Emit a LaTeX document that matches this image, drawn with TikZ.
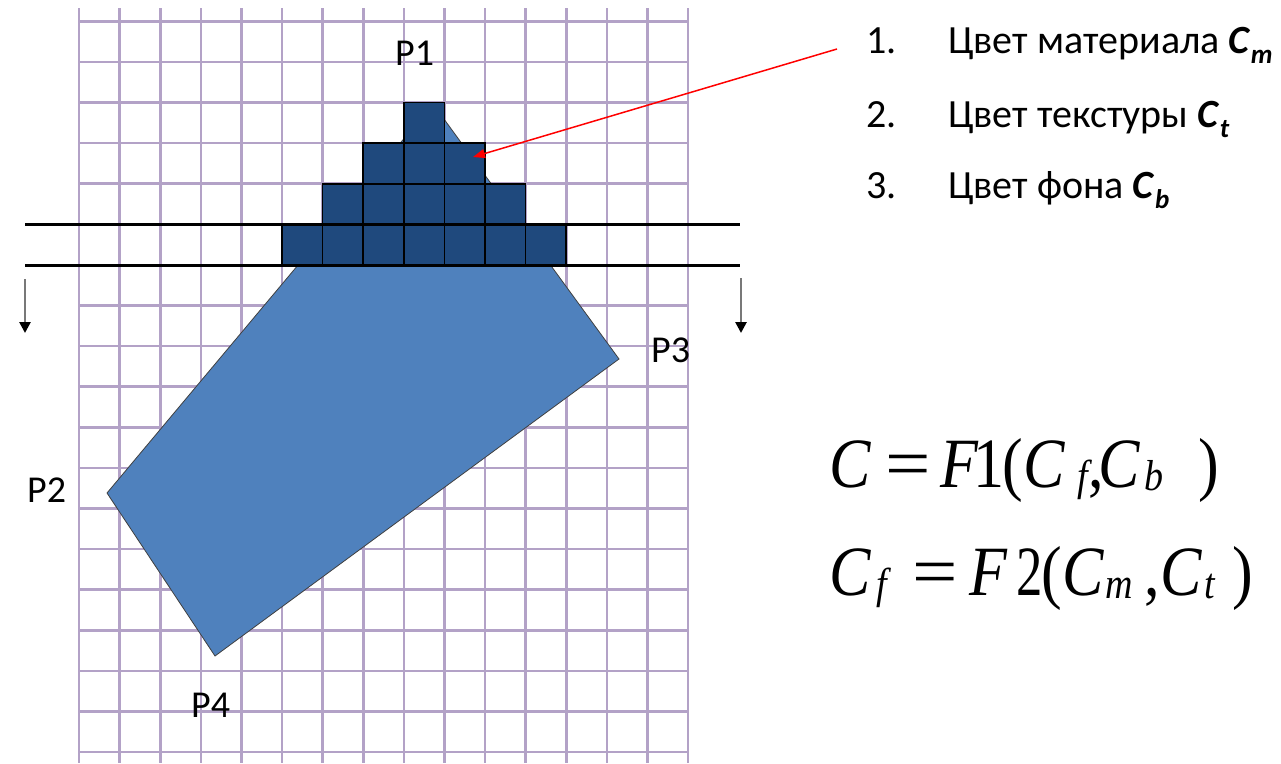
\documentclass[tikz,border=0pt]{standalone}
\usepackage{fontspec}
\usepackage{graphicx}
\setmainfont{Carlito}
\newfontfamily\eqfont{Liberation Serif}
\usetikzlibrary{arrows.meta}
\definecolor{gridc}{RGB}{179,162,199}
\definecolor{pixc}{RGB}{31,73,125}
\definecolor{polyc}{RGB}{79,129,189}
\definecolor{arrgray}{RGB}{120,120,120}
\newcommand\bsub[1]{\raisebox{-10pt}{\fontsize{27}{27}\selectfont\bfseries\itshape #1}}
\newcommand\eqg[2]{\makebox[0pt][l]{\hspace*{#1pt}#2}}
\newcommand\eqs[1]{\raisebox{-3pt}{\fontsize{38}{38}\selectfont\itshape #1}}
\newcommand\eqstretch[1]{\scalebox{1}[1.14]{#1}}
\newcommand\wideeq{\scalebox{1.3}[1]{=}}
\newcommand\narrow[1]{\scalebox{0.85}[1]{#1}}
\tikzset{
  gridline/.style={draw=gridc, line width=2.6pt},
  pix/.style={fill=pixc, draw=black, line width=1.6pt},
  poly/.style={fill=polyc, draw=black!75, line width=0.8pt, line join=miter},
  scanline/.style={draw=black, line width=3pt},
  downarr/.style={draw=arrgray, line width=2.6pt, -{Triangle[length=11pt,width=11pt,color=black]}},
  redarr/.style={draw=red, line width=1.5pt, -{Triangle[length=12pt,width=9pt]}},
  plbl/.style={font=\fontsize{38}{38}\selectfont, anchor=base west, inner sep=0pt},
  lbl/.style={font=\fontsize{40}{40}\selectfont, anchor=base west, inner sep=0pt},
  eq/.style={font=\eqfont\fontsize{62}{62}\selectfont, anchor=base west, inner sep=0pt},
}
\begin{document}
\begin{tikzpicture}[x=1pt,y=-1pt]
\useasboundingbox (0,0) rectangle (1281,763);
% grid
\foreach \k in {0,...,15} \draw[gridline] ({79+40.6*\k},8) -- ({79+40.6*\k},763);
\foreach \k in {0,...,18} \draw[gridline] (79,{21.3+40.6*\k}) -- (688,{21.3+40.6*\k});
% primitive
\coordinate (P1) at (433,104);
\coordinate (P3) at (619,359);
\coordinate (P4) at (215,656);
\coordinate (P2) at (107,493);
\draw[poly] (P1) -- (P3) -- (P4) -- (P2) -- cycle;
% pixels
\foreach \r/\a/\b in {1/8/8,2/7/9,3/6/10,4/5/11}
  \foreach \k in {\a,...,\b}
    \draw[pix] ({79+40.6*\k},{21.3+40.6*(\r+1)}) rectangle ++(40.6,40.6);
% scan lines
\draw[scanline] (25,224.3) -- (740,224.3);
\draw[scanline] (25,265) -- (740,265);
% down arrows
\coordinate (la1) at (25,279);
\coordinate (la2) at (25,333);
\coordinate (ra1) at (741,278);
\coordinate (ra2) at (741,333);
\draw[downarr] (la1) -- (la2);
\draw[downarr] (ra1) -- (ra2);
% labels
\node[plbl] (l1) at (395,65) {P1};
\node[plbl] (l2) at (27,502) {P2};
\node[plbl] (l3) at (651,362) {P3};
\node[plbl] (l4) at (191,717) {P4};
% list
\node[lbl] (n1) at (866,53) {1.};
\node[lbl] (n2) at (866,127) {2.};
\node[lbl] (n3) at (866,198) {3.};
\node[lbl] (t1) at (948,53) {Цвет материала \textbf{\textit{C}}\bsub{m}};
\node[lbl] (t2) at (948,127) {Цвет текстуры \textbf{\textit{C}}\bsub{t}};
\node[lbl] (t3) at (948,198) {Цвет фона \textbf{\textit{C}}\bsub{b}};
% red arrow
\coordinate (rs) at (837,49);
\coordinate (re) at (473,157);
\draw[redarr] (rs) -- (re);
% equations
\node[eq] (eq1) at (829,487) {\eqstretch{\eqg{0}{\textit{C}}\eqg{56}{\wideeq}\eqg{111}{\textit{F}}\eqg{144}{1}\eqg{173}{(}\eqg{194}{\textit{C}}\eqg{248}{\eqs{f}}\eqg{259}{,}\eqg{269}{\textit{C}}\eqg{315}{\eqs{b}}\eqg{369}{)}}};
\node[eq] (eq2) at (829,595) {\eqstretch{\eqg{0}{\textit{C}}\eqg{47}{\eqs{f}}\eqg{83}{\wideeq}\eqg{140}{\textit{F}}\eqg{187}{\narrow{2}}\eqg{212}{(}\eqg{233}{\textit{C}}\eqg{276}{\eqs{m}}\eqg{315}{,}\eqg{331}{\textit{C}}\eqg{375}{\eqs{t}}\eqg{403}{)}}};
\end{tikzpicture}
\end{document}
